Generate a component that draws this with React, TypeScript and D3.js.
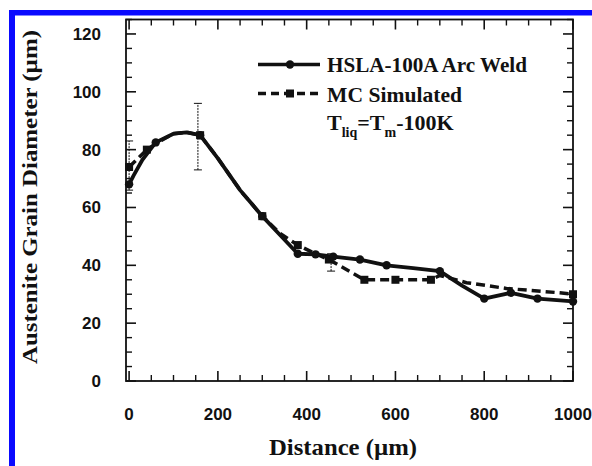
import React from "react";
import * as d3 from "d3";

const hslaX = [0, 10, 30, 60, 100, 130, 160, 200, 250, 300, 340, 380, 420, 460, 520, 580, 640, 700, 750, 800, 860, 920, 1000];
const hslaY = [68, 71, 76.5, 82.5, 85.5, 86, 85, 77, 66, 57, 50.5, 44, 43.8, 43, 42, 40, 39, 38, 33, 28.5, 30.5, 28.5, 27.5];
const hslaMarkX = [0, 60, 160, 300, 380, 420, 460, 520, 580, 700, 800, 860, 920, 1000];

const mcX = [0, 20, 40, 70, 100, 130, 160, 200, 250, 300, 340, 380, 420, 450, 530, 600, 680, 700, 760, 850, 970, 1000];
const mcY = [74, 77, 80, 83, 85.5, 86, 85, 77, 66, 57, 51, 47, 44, 42, 35, 35, 35, 36.5, 34, 32, 30.5, 30];
const mcMarkX = [0, 40, 160, 300, 380, 450, 530, 600, 680, 1000];

const errX = [0, 155, 455];
const errLow = [66, 73, 38];
const errHigh = [83, 96, 44];

const xMajor = [0, 200, 400, 600, 800, 1000];
const yMajor = [0, 20, 40, 60, 80, 100, 120];

const legendLabels = ["HSLA-100A Arc Weld", "MC Simulated"];

export default function App() {
  const W = 592, H = 466;
  const L = 126, R = 573, T = 19.5, B = 381;
  const x = d3.scaleLinear().domain([-7, 1000]).range([L, R]);
  const y = d3.scaleLinear().domain([0, 125]).range([B, T]);

  const line = d3.line<[number, number]>().x(d => x(d[0])).y(d => y(d[1]));
  const hsla: [number, number][] = hslaX.map((v, i) => [v, hslaY[i]]);
  const mc: [number, number][] = mcX.map((v, i) => [v, mcY[i]]);
  const interp = (xs: number[], ys: number[], v: number) => {
    for (let i = 0; i < xs.length - 1; i++) {
      if (v >= xs[i] && v <= xs[i + 1]) {
        const t = (v - xs[i]) / (xs[i + 1] - xs[i]);
        return ys[i] + t * (ys[i + 1] - ys[i]);
      }
    }
    return ys[ys.length - 1];
  };

  const xMinor = d3.range(0, 1001, 50).filter(v => v % 200 !== 0);
  const yMinor = d3.range(0, 126, 5).filter(v => v % 20 !== 0);
  const major = 10, minor = 6;
  const ink = "#111";
  const tickFont = { fontFamily: "Liberation Sans, Arial, sans-serif", fontWeight: 700, fontSize: 17, fill: ink } as const;
  const serif = "Liberation Serif, Times New Roman, serif";

  return (
    <svg width={W} height={H} style={{ position: "absolute", left: 0, top: 0, background: "#fff" }}>
      <rect x={0} y={0} width={W} height={H} fill="#fff" />
      {/* blue frame */}
      <rect x={9} y={10} width={W - 9} height={5.5} fill="#0a0aff" />
      <rect x={9} y={10} width={6} height={H - 10} fill="#0a0aff" />

      {/* plot frame */}
      <rect x={L} y={T} width={R - L} height={B - T} fill="none" stroke={ink} strokeWidth={1.8} />

      {/* x ticks */}
      {xMajor.map(v => (
        <g key={"xm" + v}>
          <line x1={x(v)} x2={x(v)} y1={B} y2={B - major} stroke={ink} strokeWidth={1.6} />
          <line x1={x(v)} x2={x(v)} y1={T} y2={T + major} stroke={ink} strokeWidth={1.6} />
          <text x={x(v)} y={420} textAnchor="middle" {...tickFont}>{v}</text>
        </g>
      ))}
      {xMinor.map(v => (
        <g key={"xn" + v}>
          <line x1={x(v)} x2={x(v)} y1={B} y2={B - minor} stroke={ink} strokeWidth={1.4} />
          <line x1={x(v)} x2={x(v)} y1={T} y2={T + minor} stroke={ink} strokeWidth={1.4} />
        </g>
      ))}
      {/* y ticks */}
      {yMajor.map(v => (
        <g key={"ym" + v}>
          <line x1={L} x2={L + major} y1={y(v)} y2={y(v)} stroke={ink} strokeWidth={1.6} />
          <line x1={R} x2={R - major} y1={y(v)} y2={y(v)} stroke={ink} strokeWidth={1.6} />
          <text x={101} y={y(v) + 6} textAnchor="end" {...tickFont}>{v}</text>
        </g>
      ))}
      {yMinor.map(v => (
        <g key={"yn" + v}>
          <line x1={L} x2={L + minor} y1={y(v)} y2={y(v)} stroke={ink} strokeWidth={1.4} />
          <line x1={R} x2={R - minor} y1={y(v)} y2={y(v)} stroke={ink} strokeWidth={1.4} />
        </g>
      ))}

      {/* error bars */}
      {errX.map((v, i) => (
        <g key={"e" + i} stroke={ink} strokeWidth={1}>
          <line x1={x(v)} x2={x(v)} y1={y(errLow[i])} y2={y(errHigh[i])} strokeDasharray="2,1" />
          <line x1={x(v) - 4} x2={x(v) + 4} y1={y(errLow[i])} y2={y(errLow[i])} />
          <line x1={x(v) - 4} x2={x(v) + 4} y1={y(errHigh[i])} y2={y(errHigh[i])} />
        </g>
      ))}

      {/* MC simulated dashed */}
      <path d={line(mc) || ""} fill="none" stroke={ink} strokeWidth={3.5} strokeDasharray="9,5" />
      {mcMarkX.map(v => (
        <rect key={"mq" + v} x={x(v) - 4} y={y(interp(mcX, mcY, v)) - 4} width={8} height={8} fill={ink} />
      ))}
      {/* HSLA solid */}
      <path d={line(hsla) || ""} fill="none" stroke={ink} strokeWidth={3.8} strokeLinejoin="round" />
      {hslaMarkX.map(v => (
        <circle key={"hc" + v} cx={x(v)} cy={y(interp(hslaX, hslaY, v))} r={4.2} fill={ink} />
      ))}

      {/* legend */}
      <line x1={258} x2={320} y1={64.5} y2={64.5} stroke={ink} strokeWidth={3.5} />
      <circle cx={290} cy={64.5} r={4.2} fill={ink} />
      <text x={327} y={72} fontFamily={serif} fontWeight={700} fontSize={22} fill={ink} textLength={200} lengthAdjust="spacingAndGlyphs">{legendLabels[0]}</text>
      <line x1={258} x2={320} y1={93.5} y2={93.5} stroke={ink} strokeWidth={3.5} strokeDasharray="8,5" />
      <rect x={286} y={89.5} width={8} height={8} fill={ink} />
      <text x={327} y={102} fontFamily={serif} fontWeight={700} fontSize={22} fill={ink} textLength={135} lengthAdjust="spacingAndGlyphs">{legendLabels[1]}</text>
      <text x={327} y={130} fontFamily={serif} fontWeight={700} fontSize={22} fill={ink}>
        T<tspan fontSize={14} dy={7}>liq</tspan><tspan dy={-7}>=T</tspan><tspan fontSize={14} dy={7}>m</tspan><tspan dy={-7}>-100K</tspan>
      </text>

      {/* axis titles */}
      <text x={343} y={455} textAnchor="middle" fontFamily={serif} fontWeight={700} fontSize={23} fill={ink} textLength={148} lengthAdjust="spacingAndGlyphs">Distance (µm)</text>
      <text transform={`translate(37,${197}) rotate(-90)`} textAnchor="middle" fontFamily={serif} fontWeight={700} fontSize={22} fill={ink} textLength={334} lengthAdjust="spacingAndGlyphs">Austenite Grain Diameter (µm)</text>
    </svg>
  );
}
